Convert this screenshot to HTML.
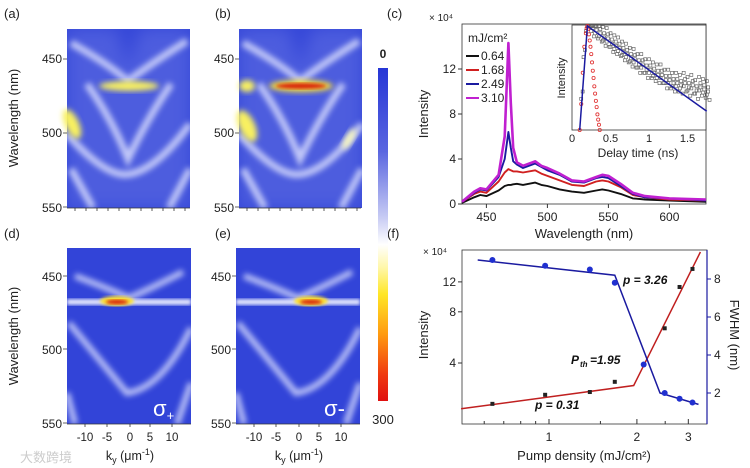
<!DOCTYPE html>
<html><head><meta charset="utf-8"><style>
body{margin:0;background:#fff;}
svg{display:block;font-family:"Liberation Sans",Arial,sans-serif;}
</style></head><body>
<svg id="fig" width="750" height="468" viewBox="0 0 750 468">
<defs>
<filter id="blur2" x="-30%" y="-30%" width="160%" height="160%"><feGaussianBlur stdDeviation="3"/></filter>
<filter id="blur6" x="-30%" y="-30%" width="160%" height="160%"><feGaussianBlur stdDeviation="8"/></filter>
<filter id="blur1"><feGaussianBlur stdDeviation="1.5"/></filter>
<linearGradient id="cbar" x1="0" y1="0" x2="0" y2="1">
<stop offset="0" stop-color="#2636d6"/><stop offset="0.25" stop-color="#5a66e0"/><stop offset="0.45" stop-color="#c8ccf4"/><stop offset="0.53" stop-color="#ffffff"/><stop offset="0.6" stop-color="#fff7a8"/><stop offset="0.68" stop-color="#ffe626"/><stop offset="0.8" stop-color="#ff9a10"/><stop offset="0.92" stop-color="#f03a10"/><stop offset="1" stop-color="#e01010"/>
</linearGradient>
<clipPath id="clipT"><rect x="0" y="0" width="123" height="179"/></clipPath>
<clipPath id="clipB"><rect x="0" y="0" width="124" height="176"/></clipPath>
<g id="mapTop" clip-path="url(#clipT)">
<rect x="0" y="0" width="123" height="179" fill="#3547d8"/>
<path d="M0,0 L50,0 L61,40 L73,0 L123,0 L123,179 L0,179Z" fill="#6a78e6" opacity="0.45" filter="url(#blur6)"/>
<g fill="none" stroke="#dfe3ff" stroke-width="7" filter="url(#blur2)" opacity="0.8">
<path d="M4,14 Q40,34 61,52 Q85,34 120,12"/>
<path d="M20,55 Q45,90 61,130 Q80,90 104,55"/>
<path d="M0,105 Q40,150 63,145 Q90,140 123,95"/>
<path d="M4,140 L26,179"/><path d="M123,140 L102,179"/>
</g>
</g>
<g id="mapBot" clip-path="url(#clipB)">
<rect x="0" y="0" width="124" height="176" fill="#3244d8"/>
<g fill="none" stroke="#dfe3ff" stroke-width="6" filter="url(#blur2)" opacity="0.8">
<path d="M8,28 Q40,40 62,50 Q85,40 116,24"/>
<path d="M2,75 Q35,115 60,145 Q95,140 124,80"/>
<path d="M0,145 L8,176"/><path d="M124,135 L110,176"/>
</g>
<rect x="0" y="51" width="124" height="6" fill="#eef0ff" filter="url(#blur1)" opacity="0.9"/>
</g>
</defs>

<g font-size="13" fill="#222">
<text x="4" y="18">(a)</text>
<text x="215" y="18">(b)</text>
<text x="387" y="18">(c)</text>
<text x="4" y="238">(d)</text>
<text x="215" y="238">(e)</text>
<text x="387" y="238">(f)</text>
</g>

<g transform="translate(67,29)">
<use href="#mapTop"/>
<ellipse cx="62" cy="57" rx="30" ry="5" fill="#f8f060" filter="url(#blur2)"/>
<ellipse cx="5" cy="95" rx="7" ry="16" fill="#f8f060" filter="url(#blur2)" transform="rotate(-25 5 95)"/>
</g>
<g transform="translate(239,29)">
<use href="#mapTop"/>
<ellipse cx="62" cy="57" rx="32" ry="6" fill="#fbe030" filter="url(#blur2)"/>
<ellipse cx="62" cy="57" rx="25" ry="3" fill="#d82a10" filter="url(#blur1)"/>
<ellipse cx="8" cy="57" rx="8" ry="6" fill="#f8f060" filter="url(#blur2)"/>
<ellipse cx="8" cy="97" rx="8" ry="17" fill="#f8f060" filter="url(#blur2)" transform="rotate(-25 8 97)"/>
<ellipse cx="110" cy="110" rx="4" ry="12" fill="#f8f8c0" filter="url(#blur2)" transform="rotate(30 110 110)"/>
</g>
<g transform="translate(67,248)">
<use href="#mapBot"/>
<ellipse cx="50" cy="53" rx="17" ry="5" fill="#fbe030" filter="url(#blur1)"/>
<ellipse cx="50" cy="54" rx="11" ry="2.5" fill="#d82a10" filter="url(#blur1)"/>
<text x="86" y="168" font-size="22" fill="#fff">σ<tspan font-size="13" dy="4">+</tspan></text>
</g>
<g transform="translate(236,248)">
<use href="#mapBot"/>
<ellipse cx="75" cy="53" rx="17" ry="5" fill="#fbe030" filter="url(#blur1)"/>
<ellipse cx="75" cy="54" rx="11" ry="2.5" fill="#d82a10" filter="url(#blur1)"/>
<text x="88" y="168" font-size="22" fill="#fff">σ-</text>
</g>

<g font-size="12" fill="#222" stroke="none">
<text x="62" y="63" text-anchor="end">450</text><text x="62" y="137" text-anchor="end">500</text><text x="62" y="212" text-anchor="end">550</text>
<text x="234" y="63" text-anchor="end">450</text><text x="234" y="137" text-anchor="end">500</text><text x="234" y="212" text-anchor="end">550</text>
<text x="62" y="281" text-anchor="end">450</text><text x="62" y="354" text-anchor="end">500</text><text x="62" y="428" text-anchor="end">550</text>
<text x="231" y="281" text-anchor="end">450</text><text x="231" y="354" text-anchor="end">500</text><text x="231" y="428" text-anchor="end">550</text>
<text transform="translate(18,118) rotate(-90)" text-anchor="middle" font-size="13">Wavelength (nm)</text>
<text transform="translate(18,336) rotate(-90)" text-anchor="middle" font-size="13">Wavelength (nm)</text>
<g font-size="11.5">
<text x="85" y="441" text-anchor="middle">-10</text><text x="107" y="441" text-anchor="middle">-5</text><text x="130" y="441" text-anchor="middle">0</text><text x="150" y="441" text-anchor="middle">5</text><text x="172" y="441" text-anchor="middle">10</text>
<text x="254" y="441" text-anchor="middle">-10</text><text x="276" y="441" text-anchor="middle">-5</text><text x="299" y="441" text-anchor="middle">0</text><text x="319" y="441" text-anchor="middle">5</text><text x="341" y="441" text-anchor="middle">10</text>
</g>
<text x="130" y="460" text-anchor="middle" font-size="12.5">k<tspan font-size="9" dy="3">y</tspan><tspan dy="-3"> (μm</tspan><tspan font-size="9" dy="-5">-1</tspan><tspan dy="5">)</tspan></text>
<text x="299" y="460" text-anchor="middle" font-size="12.5">k<tspan font-size="9" dy="3">y</tspan><tspan dy="-3"> (μm</tspan><tspan font-size="9" dy="-5">-1</tspan><tspan dy="5">)</tspan></text>
</g>
<g stroke="#333" stroke-width="0.8">
<line x1="67" y1="208" x2="190" y2="208"/><line x1="239" y1="208" x2="361" y2="208"/>
<line x1="67" y1="424" x2="191" y2="424"/><line x1="236" y1="424" x2="360" y2="424"/>
<path d="M63,59h4M63,133h4M63,207h4M235,59h4M235,133h4M235,207h4M63,276h4M63,349h4M63,423h4M232,276h4M232,349h4M232,423h4"/>
<path d="M75,208v3M86,208v3M97,208v3M108,208v3M119,208v3M130,208v3M141,208v3M152,208v3M163,208v3M174,208v3M185,208v3"/>
<path d="M247,208v3M258,208v3M269,208v3M280,208v3M291,208v3M302,208v3M313,208v3M324,208v3M335,208v3M346,208v3M357,208v3"/>
<path d="M85,424v3M107,424v3M130,424v3M150,424v3M172,424v3M254,424v3M276,424v3M299,424v3M319,424v3M341,424v3"/>
</g>

<rect x="378" y="68" width="10" height="333" fill="url(#cbar)"/>
<text x="383" y="58" text-anchor="middle" font-size="12" font-weight="bold" fill="#222">0</text>
<text x="383" y="424" text-anchor="middle" font-size="13" fill="#222">300</text>

<text x="20" y="462" font-size="13" fill="#ccc" font-family="'Liberation Sans','Noto Sans CJK SC',sans-serif">大数跨境</text>

<g id="panelC"></g>
<g id="panelF"></g>
</svg>
<script>
// ---------- Panel (c) data ----------
const wl = [430,440,445,450,460,465,468,470,472,475,480,490,495,500,510,520,530,540,545,550,560,570,580,600,630];
const s064 = [0.1,0.6,0.8,0.7,1.2,1.6,1.7,1.7,1.75,1.8,1.7,1.9,1.7,1.6,1.3,1.1,1.0,1.2,1.3,1.2,0.9,0.5,0.4,0.3,0.2];
const s168 = [0.2,0.9,1.1,1.0,2.0,2.8,3.1,3.0,2.9,2.9,2.8,3.0,2.7,2.5,2.1,1.7,1.6,2.0,2.1,2.0,1.5,0.8,0.6,0.4,0.3];
const s249 = [0.2,1.0,1.3,1.2,2.4,4.0,6.4,5.0,3.8,3.5,3.2,3.6,3.3,3.0,2.6,2.0,1.9,2.3,2.4,2.3,1.6,0.9,0.6,0.5,0.3];
const s310 = [0.2,1.1,1.4,1.3,2.6,6.0,14.3,9.0,5.0,3.7,3.4,3.8,3.4,3.2,2.7,2.1,2.0,2.4,2.6,2.5,1.8,1.0,0.7,0.5,0.4];
const legendLabels = ["0.64","1.68","2.49","3.10"];
const cTicksX = [450,500,550,600];
const cTicksY = [0,4,8,12];
const insetT = [0.12,0.15,0.18,0.2,0.25,0.3,0.35,0.4,0.45,0.5,0.55,0.6,0.65,0.7,0.75,0.8,0.85,0.9,0.95,1.0,1.05,1.1,1.15,1.2,1.25,1.3,1.35,1.4,1.45,1.5,1.55,1.6,1.65,1.7,1.75];
const insetGrey = [0.3,0.7,0.95,1.0,0.95,0.93,0.9,0.86,0.85,0.8,0.78,0.76,0.72,0.7,0.66,0.65,0.6,0.6,0.55,0.55,0.52,0.5,0.5,0.45,0.45,0.42,0.42,0.4,0.42,0.38,0.4,0.35,0.38,0.36,0.34];
const redT = [0.1,0.12,0.14,0.16,0.18,0.19,0.2,0.21,0.22,0.23,0.24,0.25,0.26,0.27,0.28,0.29,0.3,0.31,0.32,0.33,0.34,0.35,0.36];
const redV = [0.0,0.25,0.55,0.8,0.93,0.98,1.0,0.97,0.92,0.86,0.8,0.73,0.65,0.57,0.5,0.42,0.35,0.28,0.22,0.15,0.1,0.05,0.0];
const fitT = [0.1,0.2,1.75];
const fitV = [0.0,1.0,0.18];
const insetTicks = [0,0.5,1,1.5];

// ---------- Panel (f) data ----------
const pump = [0.64,0.97,1.38,1.68,2.49,2.8,3.1];
const intens = [2.3,2.6,2.7,3.1,6.4,11.2,14.3];
const fwhmP = [0.64,0.97,1.38,1.68,2.11,2.49,2.8,3.1];
const fwhm = [9.0,8.7,8.5,7.8,3.5,2.0,1.7,1.5];
const redFitX = [0.5,1.95,3.3];
const redFitY = [2.15,2.95,18];
const blueFitX = [0.57,1.68,2.4,3.25];
const blueFitY = [9.0,8.2,2.0,1.4];
const fTicksX = [1,2,3];
const fTicksYL = [4,8,12];
const fTicksYR = [2,4,6,8];

const NS="http://www.w3.org/2000/svg";
function mk(parent,tag,attrs,txt){const e=document.createElementNS(NS,tag);for(const k in attrs)e.setAttribute(k,attrs[k]);if(txt!=null)e.textContent=txt;parent.appendChild(e);return e;}

// panel c
const C=document.getElementById('panelC');
const cx=v=>462+(v-430)*(244/200), cy=v=>204-v*11.25;
mk(C,'rect',{x:462,y:24,width:244,height:180,fill:'none',stroke:'#333','stroke-width':0.8});
const series=[[s064,'#111'],[s168,'#d02020'],[s249,'#1a1aa0'],[s310,'#c020d0']];
series.forEach(([arr,col],i)=>{
  const p=mk(C,'path',{d:arr.map((v,j)=>(j?'L':'M')+cx(wl[j]).toFixed(1)+','+cy(v).toFixed(1)).join(''),fill:'none',stroke:col,'stroke-width':i==3?2.6:1.9,'stroke-linejoin':'round'});
  
  
  const ly=56+i*14;
  const l=mk(C,'line',{x1:466,y1:ly,x2:479,y2:ly,stroke:col,'stroke-width':2});
  
  
  const t=mk(C,'text',{x:481,y:ly+4,'font-size':12,fill:'#222'},legendLabels[i]);
  
  
});
mk(C,'text',{x:468,y:42,'font-size':12,fill:'#222'},'mJ/cm²');
cTicksX.forEach(v=>{mk(C,'line',{x1:cx(v),y1:204,x2:cx(v),y2:208,stroke:'#333'});mk(C,'text',{x:cx(v),y:221,'text-anchor':'middle','font-size':12,fill:'#222'},v);});
cTicksY.forEach(v=>{mk(C,'line',{x1:458,y1:cy(v),x2:462,y2:cy(v),stroke:'#333'});mk(C,'text',{x:456,y:cy(v)+4,'text-anchor':'end','font-size':12,fill:'#222'},v);});
mk(C,'text',{x:429,y:21,'font-size':10,fill:'#222'},'× 10⁴');
const cyT=mk(C,'text',{transform:'translate(428,114) rotate(-90)','text-anchor':'middle','font-size':13,fill:'#222'},'Intensity');


const cxT=mk(C,'text',{x:584,y:238,'text-anchor':'middle','font-size':13,fill:'#222'},'Wavelength (nm)');


// inset
const ix=v=>572+v*77, iy=v=>130-v*104;
const ins=mk(C,'g',{});


mk(ins,'rect',{x:572,y:25,width:134,height:105,fill:'#fff',stroke:'#333','stroke-width':0.8});
const offs=[0,0.07,-0.05,0.13,0.03];
insetT.forEach((t,i)=>{offs.forEach((o,k)=>{if(t<0.25&&k>1)return;const v=Math.min(1,insetGrey[i]+o);mk(ins,'rect',{x:ix(t)-1.5+(k%3)*1.4,y:iy(v)-1.5,width:3,height:3,fill:'none',stroke:'#555','stroke-width':0.6});});});
redT.forEach((t,i)=>mk(ins,'circle',{cx:ix(t),cy:iy(redV[i]),r:1.6,fill:'none',stroke:'#e03030','stroke-width':0.8}));
mk(ins,'path',{d:fitT.map((t,j)=>(j?'L':'M')+ix(t)+','+iy(fitV[j])).join(''),fill:'none',stroke:'#1a1aa0','stroke-width':1.5});
insetTicks.forEach(v=>mk(ins,'text',{x:ix(v),y:142,'text-anchor':'middle','font-size':11,fill:'#222'},v));
mk(ins,'text',{x:638,y:157,'text-anchor':'middle','font-size':12,fill:'#222'},'Delay time (ns)');
mk(ins,'text',{transform:'translate(565,78) rotate(-90)','text-anchor':'middle','font-size':11,fill:'#222'},'Intensity');

// panel f
const F=document.getElementById('panelF');
const fx=v=>549+Math.log10(v)*292, fyL=v=>363-(Math.log10(v)-Math.log10(4))*170, fyR=v=>393-(v-2)*19;
mk(F,'rect',{x:462,y:250,width:245,height:174,fill:'none',stroke:'#333','stroke-width':0.8});
mk(F,'line',{x1:707,y1:250,x2:707,y2:424,stroke:'#1a1aa0','stroke-width':1.2});
const rf=mk(F,'path',{d:redFitX.map((v,j)=>(j?'L':'M')+fx(v).toFixed(1)+','+fyL(redFitY[j]).toFixed(1)).join(''),fill:'none',stroke:'#c02020','stroke-width':1.5});


const bf=mk(F,'path',{d:blueFitX.map((v,j)=>(j?'L':'M')+fx(v).toFixed(1)+','+fyR(blueFitY[j]).toFixed(1)).join(''),fill:'none',stroke:'#1a1aa0','stroke-width':1.5});


pump.forEach((p,i)=>{const r=mk(F,'rect',{x:fx(p)-2,y:fyL(intens[i])-2,width:4,height:4,fill:'#222'});
 
 });
fwhmP.forEach((p,i)=>{const c=mk(F,'circle',{cx:fx(p),cy:fyR(fwhm[i]),r:3,fill:'#2030d0'});
 
 });
fTicksX.forEach(v=>{mk(F,'line',{x1:fx(v),y1:424,x2:fx(v),y2:419,stroke:'#333'});mk(F,'text',{x:fx(v),y:441,'text-anchor':'middle','font-size':12,fill:'#222'},v);});
[0.6,0.7,0.8,0.9,1.5,2.5].forEach(v=>mk(F,'line',{x1:fx(v),y1:424,x2:fx(v),y2:421,stroke:'#333'}));
fTicksYL.forEach(v=>{mk(F,'line',{x1:458,y1:fyL(v),x2:462,y2:fyL(v),stroke:'#333'});mk(F,'text',{x:456,y:fyL(v)+4,'text-anchor':'end','font-size':12,fill:'#222'},v);});
fTicksYR.forEach(v=>{mk(F,'line',{x1:707,y1:fyR(v),x2:711,y2:fyR(v),stroke:'#1a1aa0'});mk(F,'text',{x:714,y:fyR(v)+4,'font-size':12,fill:'#222'},v);});
mk(F,'text',{x:423,y:255,'font-size':10,fill:'#222'},'× 10⁴');
const fyT=mk(F,'text',{transform:'translate(428,335) rotate(-90)','text-anchor':'middle','font-size':13,fill:'#222'},'Intensity');


const fyR2=mk(F,'text',{transform:'translate(730,335) rotate(90)','text-anchor':'middle','font-size':13,fill:'#222'},'FWHM (nm)');


const fxT=mk(F,'text',{x:584,y:460,'text-anchor':'middle','font-size':13,fill:'#222'},'Pump density (mJ/cm²)');


mk(F,'text',{x:623,y:284,'font-size':12,'font-weight':'bold','font-style':'italic',fill:'#111'},'p = 3.26');
mk(F,'text',{x:535,y:409,'font-size':12,'font-weight':'bold','font-style':'italic',fill:'#111'},'p = 0.31');
mk(F,'text',{x:571,y:364,'font-size':12,'font-weight':'bold','font-style':'italic',fill:'#111'},'P');
mk(F,'text',{x:580,y:367,'font-size':8,'font-weight':'bold','font-style':'italic',fill:'#111'},'th');
mk(F,'text',{x:590,y:364,'font-size':12,'font-weight':'bold','font-style':'italic',fill:'#111'},'=1.95');
</script>
</body></html>
